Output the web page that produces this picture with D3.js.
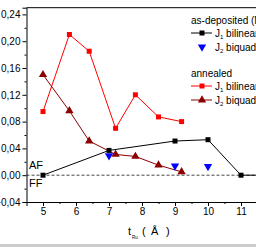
<!DOCTYPE html>
<html>
<head>
<meta charset="utf-8">
<script src="https://cdn.jsdelivr.net/npm/d3@7"></script>
<style>
  body { margin: 0; background: #fff; }
  svg { display: block; }
  text { font-family: "Liberation Sans", Arial, sans-serif; }
</style>
</head>
<body>
<script>
// as-deposited
const asX = [5, 7, 9, 10, 11, 12]
const asJ1 = [0, 0.037, 0.051, 0.053, 0, 0]
const asJ2X = [7, 9, 10]
const asJ2 = [0.029, 0.014, 0.013]
// annealed
const anX = [5, 5.8, 6.4, 7.2, 7.8, 8.5, 9.2]
const anJ1 = [0.095, 0.210, 0.185, 0.070, 0.120, 0.087, 0.080]
const anJ2 = [0.150, 0.096, 0.051, 0.031, 0.028, 0.015, 0.005]

const xTicks = [5, 6, 7, 8, 9, 10, 11]
const yTicks = [-0.04, 0, 0.04, 0.08, 0.12, 0.16, 0.20, 0.24]

const width = 256, height = 247

const x = d3.scaleLinear([4.5, 12], [26.5, 274])
const y = d3.scaleLinear([-0.04, 0.25], [202, 7.7])

const svg = d3.select("body").append("svg")
    .attr("width", width)
    .attr("height", height)

const fmt = d => d3.format(".2f")(d).replace(".", ",").replace("-", "\u2212")

// zero line
svg.append("line")
    .attr("x1", x(4.5)).attr("x2", width)
    .attr("y1", y(0)).attr("y2", y(0))
    .attr("stroke", "#444")
    .attr("stroke-width", 1)
    .attr("stroke-dasharray", "3,2")

// frame top
svg.append("line")
    .attr("x1", x(4.5)).attr("x2", width)
    .attr("y1", y(0.25)).attr("y2", y(0.25))
    .attr("stroke", "#000")

// x axis
const gx = svg.append("g").attr("transform", `translate(0,${y(-0.04)})`)
gx.call(d3.axisBottom(x).tickValues(xTicks).tickSize(4).tickPadding(2).tickFormat(d3.format("d")))
gx.append("g").call(d3.axisBottom(x).tickValues(d3.range(5.5, 12, 1)).tickSize(2).tickFormat(""))
    .select(".domain").remove()

// y axis
const gy = svg.append("g").attr("transform", `translate(${x(4.5)},0)`)
gy.call(d3.axisLeft(y).tickValues(yTicks).tickSize(4).tickPadding(2).tickFormat(fmt))
gy.append("g").call(d3.axisLeft(y).tickValues(d3.range(-0.02, 0.25, 0.04)).tickSize(2).tickFormat(""))
    .select(".domain").remove()

svg.selectAll(".tick text").attr("font-size", 10).attr("font-family", "Liberation Sans, Arial, sans-serif").attr("fill", "#000")
svg.selectAll(".domain, .tick line").attr("stroke", "#000")

const line = d3.line()

const series = [
  {xs: anX, ys: anJ1, color: "#ff0000", mark: "square"},
  {xs: anX, ys: anJ2, color: "#8b0000", mark: "triangle"},
  {xs: asX, ys: asJ1, color: "#000000", mark: "square"},
]

const symSquare = d3.symbol(d3.symbolSquare, 25)
const symTri = d3.symbol(d3.symbolTriangle, 30)

series.forEach(s => {
  const pts = s.xs.map((v, i) => [x(v), y(s.ys[i])])
  svg.append("path")
      .attr("d", line(pts))
      .attr("fill", "none")
      .attr("stroke", s.color)
      .attr("stroke-width", 1)
  svg.append("g").selectAll("path")
    .data(pts)
    .join("path")
      .attr("transform", p => `translate(${p[0]},${p[1]})`)
      .attr("d", s.mark === "square" ? symSquare : symTri)
      .attr("fill", s.color)
})

svg.append("g").selectAll("path")
  .data(asJ2X.map((v, i) => [x(v), y(asJ2[i])]))
  .join("path")
    .attr("transform", p => `translate(${p[0]},${p[1]}) rotate(180)`)
    .attr("d", symTri)
    .attr("fill", "#0000ff")

// AF / FF
svg.append("text").attr("x", 29).attr("y", 169).attr("font-size", 11).text("AF")
svg.append("text").attr("x", 29).attr("y", 187).attr("font-size", 11).text("FF")

// legend
const lg = svg.append("g").attr("font-size", 10)
lg.append("text").attr("x", 191).attr("y", 24).text("as-deposited (Mo)")
lg.append("text").attr("x", 191).attr("y", 77).text("annealed")

const items = [
  {y: 33, color: "#000000", mark: "square", line: true, label: "1", name: " bilinear"},
  {y: 47, color: "#0000ff", mark: "down", line: false, label: "2", name: " biquadratic"},
  {y: 86, color: "#ff0000", mark: "square", line: true, label: "1", name: " bilinear"},
  {y: 100, color: "#8b0000", mark: "triangle", line: true, label: "2", name: " biquadratic"},
]
items.forEach(it => {
  if (it.line) {
    lg.append("line").attr("x1", 191).attr("x2", 212).attr("y1", it.y).attr("y2", it.y)
      .attr("stroke", it.color)
  }
  lg.append("path")
    .attr("transform", `translate(202,${it.y})` + (it.mark === "down" ? " rotate(180)" : ""))
    .attr("d", it.mark === "square" ? symSquare : symTri)
    .attr("fill", it.color)
  const t = lg.append("text").attr("x", 215).attr("y", it.y + 3.5)
  t.append("tspan").text("J")
  t.append("tspan").attr("font-size", 6).attr("dy", 2).text(it.label)
  t.append("tspan").attr("dy", -2).text(it.name)
})

// x label
const xl = svg.append("g").attr("font-family", "Liberation Serif, serif").attr("font-size", 11)
xl.append("text").attr("x", 128).attr("y", 235).attr("font-family", "Liberation Serif, serif").text("t")
xl.append("text").attr("x", 132).attr("y", 239).attr("font-size", 4.5).text("Ru")
xl.append("text").attr("x", 142).attr("y", 235).attr("font-family", "Liberation Serif, serif").text("(")
xl.append("text").attr("x", 151).attr("y", 235).attr("font-family", "Liberation Serif, serif").text("Å")
xl.append("text").attr("x", 166).attr("y", 235).attr("font-family", "Liberation Serif, serif").text(")")

// bottom strip
svg.append("rect").attr("x", 0).attr("y", 244).attr("width", width).attr("height", 3).attr("fill", "#cccccc")
</script>
</body>
</html>
